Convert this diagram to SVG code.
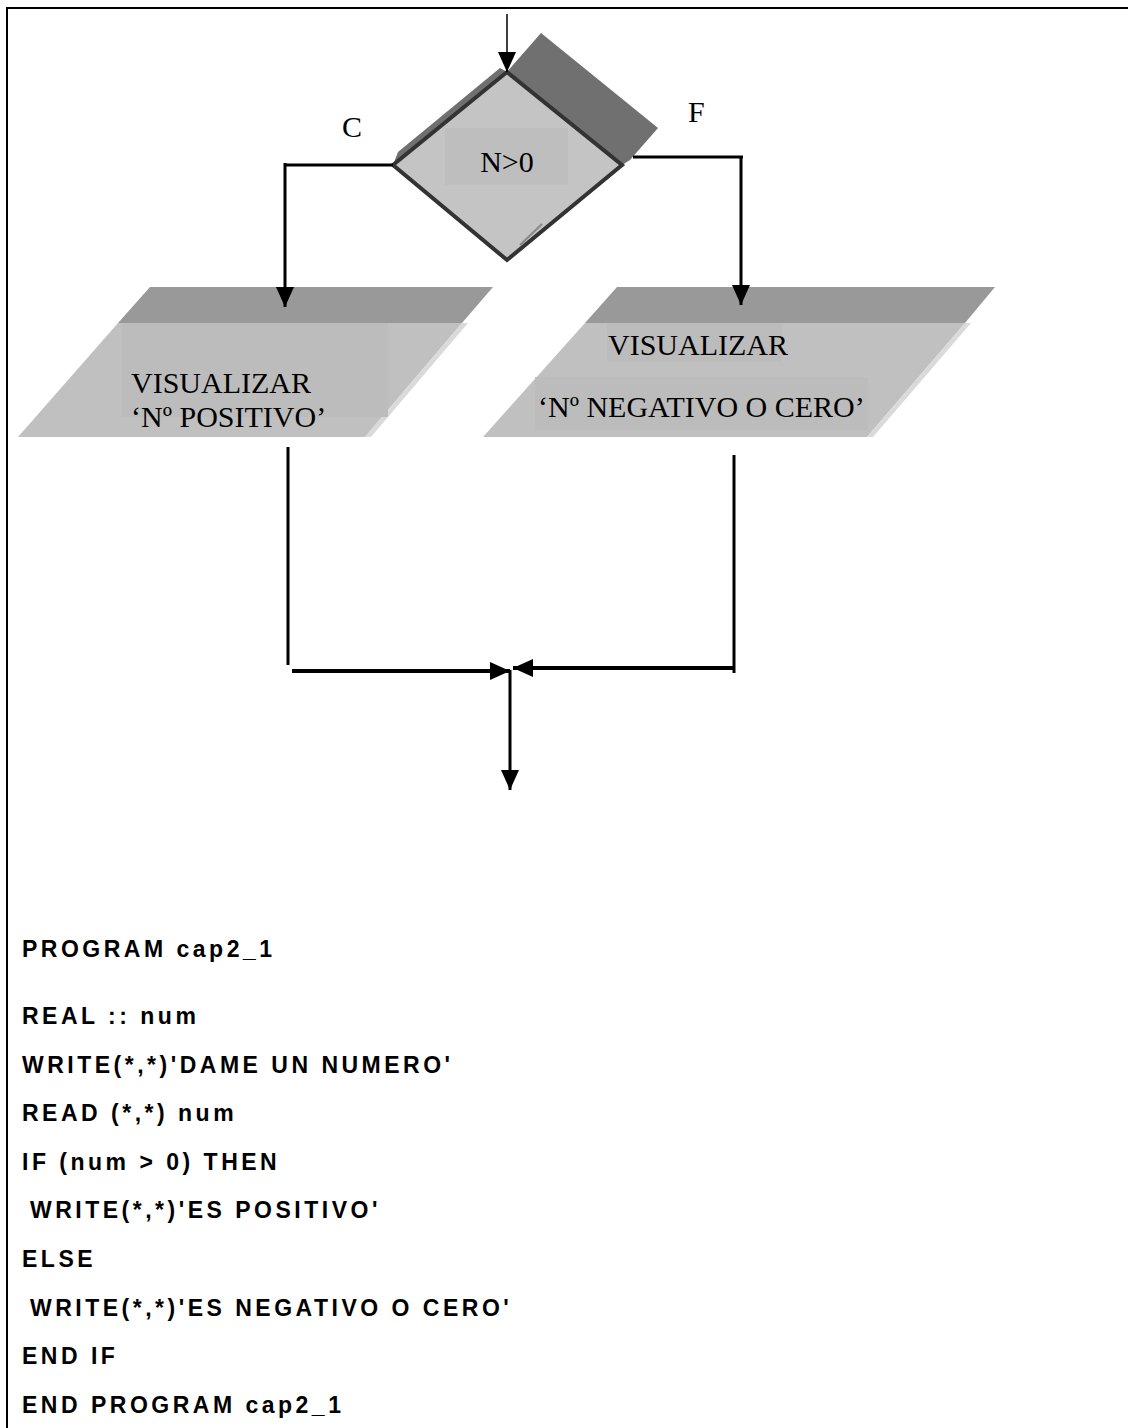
<svg xmlns="http://www.w3.org/2000/svg" width="1128" height="1428" viewBox="0 0 1128 1428">
<defs>
<style>
.lbl{font-family:"Liberation Serif","Times New Roman",serif;font-size:30px;fill:#000}
.code{font-family:"Liberation Sans",Arial,sans-serif;font-size:23px;font-weight:bold;letter-spacing:3.5px;fill:#000}
.band{fill:#999999}
.body{fill:#c0c0c0}
.hl{fill:#dadada}
.tbg{fill:#bcbcbc}
.ln{stroke:#000;stroke-width:3;fill:none}
.ln4{stroke:#000;stroke-width:4;fill:none}
</style>
<marker id="ah" viewBox="0 0 20 18" refX="20" refY="9" markerWidth="20" markerHeight="18" markerUnits="userSpaceOnUse" orient="auto">
<path d="M0,0 L20,9 L0,18 Z" fill="#000"/>
</marker>
</defs>
<rect width="1128" height="1428" fill="#fff"/>
<g id="frame">
<line x1="6" y1="8" x2="1128" y2="8" stroke="#000" stroke-width="2"/>
<line x1="7" y1="8" x2="7" y2="1428" stroke="#000" stroke-width="2"/>
</g>
<g id="decision">
<polygon points="507,72 541,33 658,128 630,160 622,165" fill="#707070"/>
<polygon points="393,165 398,152 500,68 507,72" fill="#707070"/>
<polygon points="507,72 622,165 507,260 393,165" fill="#c4c4c4" stroke="#333" stroke-width="4" stroke-linejoin="miter"/>
<rect x="445" y="128" width="123" height="57" fill="#bebebe"/>
<line x1="520" y1="245" x2="542" y2="224" stroke="#888" stroke-width="2"/>
<text class="lbl" x="507" y="172" text-anchor="middle">N&gt;0</text>
</g>
<g id="out-positivo">
<polygon class="band" points="150,287 493,287 462,323 118,323"/>
<polygon class="body" points="118,323 462,323 365,437 18,437"/>
<polygon class="hl" points="462,323 468,323 371,437 365,437"/>
<rect class="tbg" x="122" y="323" width="266" height="94"/>
<text class="lbl" x="131" y="393">VISUALIZAR</text>
<text class="lbl" x="131" y="427">‘Nº POSITIVO’</text>
</g>
<g id="out-negativo">
<polygon class="band" points="617,287 995,287 965,323 585,323"/>
<polygon class="body" points="585,323 965,323 867,437 483,437"/>
<polygon class="hl" points="965,323 971,323 873,437 867,437"/>
<rect class="tbg" x="607" y="323" width="175" height="39"/>
<rect class="tbg" x="535" y="377" width="333" height="53"/>
<text class="lbl" x="608" y="355">VISUALIZAR</text>
<text class="lbl" x="538" y="417">‘Nº NEGATIVO O CERO’</text>
</g>
<g id="labels">
<text class="lbl" x="342" y="137">C</text>
<text class="lbl" x="688" y="122">F</text>
</g>
<g id="connectors">
<line x1="507" y1="14" x2="507" y2="72" stroke="#000" stroke-width="1.5" marker-end="url(#ah)"/>
<polyline class="ln" points="393,165 285,165"/>
<line class="ln" x1="285" y1="163" x2="285" y2="307" marker-end="url(#ah)"/>
<polyline class="ln" points="633,157 743,157"/>
<line class="ln" x1="741" y1="156" x2="741" y2="305" marker-end="url(#ah)"/>
<line class="ln" x1="288" y1="447" x2="288" y2="665"/>
<line class="ln" x1="734" y1="455" x2="734" y2="673"/>
<line class="ln4" x1="292" y1="671" x2="510" y2="671" marker-end="url(#ah)"/>
<line class="ln4" x1="733" y1="668" x2="513" y2="668" marker-end="url(#ah)"/>
<line class="ln" x1="510" y1="670" x2="510" y2="790" marker-end="url(#ah)"/>
</g>
<g id="code">
<text class="code" x="22" y="957">PROGRAM cap2_1</text>
<text class="code" x="22" y="1024">REAL :: num</text>
<text class="code" x="22" y="1073">WRITE(*,*)'DAME UN NUMERO'</text>
<text class="code" x="22" y="1121">READ (*,*) num</text>
<text class="code" x="22" y="1170">IF (num &gt; 0) THEN</text>
<text class="code" x="30" y="1218">WRITE(*,*)'ES POSITIVO'</text>
<text class="code" x="22" y="1267">ELSE</text>
<text class="code" x="30" y="1316">WRITE(*,*)'ES NEGATIVO O CERO'</text>
<text class="code" x="22" y="1364">END IF</text>
<text class="code" x="22" y="1413">END PROGRAM cap2_1</text>
</g>
</svg>
